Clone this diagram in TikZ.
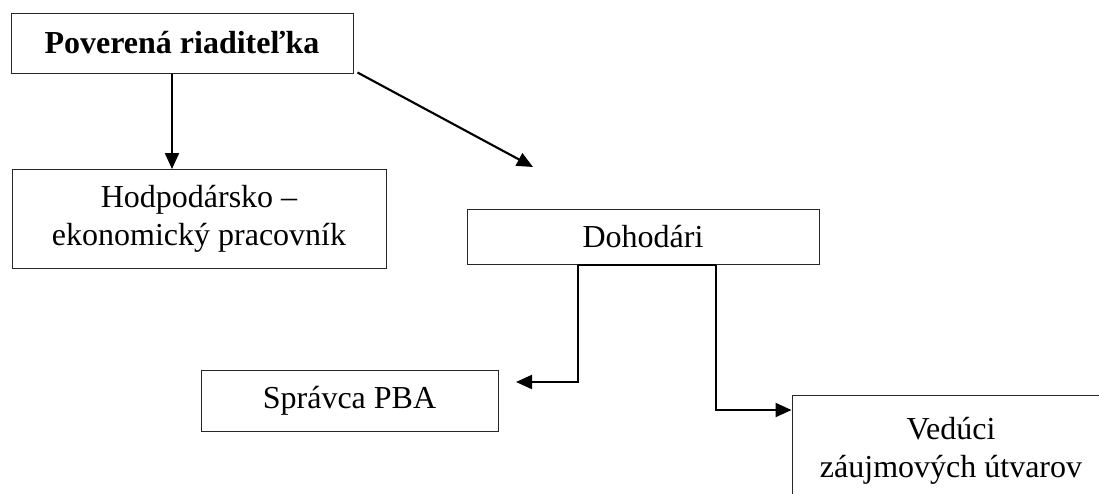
\documentclass[tikz,border=0pt]{standalone}
\usepackage{fontspec}
\setmainfont{Liberation Serif}
\usetikzlibrary{arrows.meta}
\tikzset{
  box/.style={draw=black!85, line width=1pt, rectangle, inner sep=0pt, align=center,
    font=\fontsize{32}{38}\selectfont},
  arr/.style={line width=2.1pt, -{Triangle[length=16pt,width=14pt]}},
  conn/.style={line width=2.1pt}
}
\begin{document}
\begin{tikzpicture}[x=1pt,y=-1pt]
\useasboundingbox (0,0) rectangle (1099,493);
\clip (0,0) rectangle (1099,493);
\node[box, minimum width=342pt, minimum height=60pt, font=\fontsize{32}{38}\selectfont\bfseries] (pov) at (182,43) {Poverená riaditeľka};
\node[box, minimum width=374pt, minimum height=99pt] (hod) at (199,219) {Hodpodársko –\\ekonomický pracovník};
\node[box, minimum width=352pt, minimum height=55pt] (doh) at (643,237) {Dohodári};
\node[box, minimum width=297pt, minimum height=61pt] (spr) at (349.5,401) {Správca PBA};
\node[box, minimum width=318pt, minimum height=112pt] (ved) at (951,451) {Vedúci\\záujmových útvarov};
\coordinate (t1) at (533,167);
\coordinate (a1) at (516,382);
\coordinate (v1) at (0,410);
\coordinate (dl) at ([xshift=-65pt]doh.south);
\coordinate (dr) at ([xshift=73pt]doh.south);
\draw[arr] ([xshift=-10pt]pov.south) -- ([xshift=-10pt]pov.south |- hod.north);
\draw[arr] ([shift={(4pt,1pt)}]pov.south east) -- (t1);
\draw[conn] (dl) -- (dr);
\draw[arr] (dl) |- (a1);
\draw[arr] (dr) |- (ved.west |- v1);
\end{tikzpicture}
\end{document}
